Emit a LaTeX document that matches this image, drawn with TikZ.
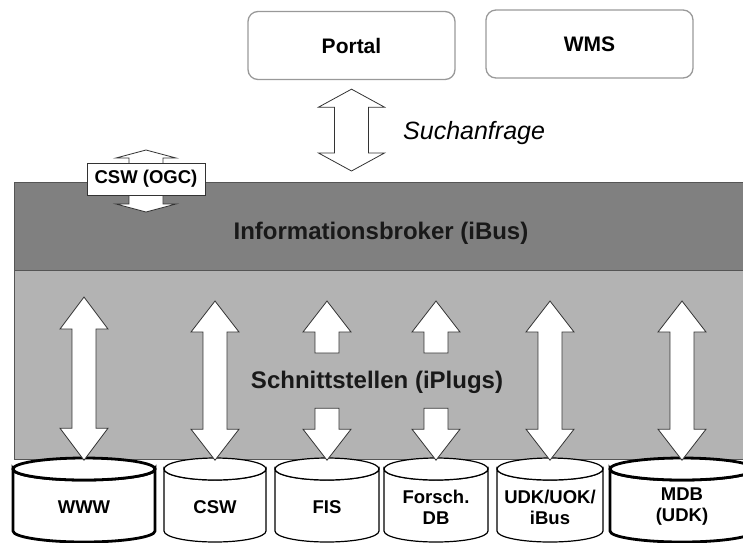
\documentclass[tikz,border=0pt]{standalone}
\usepackage{fontspec}
\setmainfont{Liberation Sans}
\usetikzlibrary{calc, positioning}
\definecolor{brokergray}{HTML}{808080}
\definecolor{plugsgray}{HTML}{B3B3B3}
\definecolor{edgegray}{HTML}{555555}
\tikzset{
  band/.style={draw=edgegray, line width=1.2pt, minimum width=760pt, anchor=north west, inner sep=0pt},
  bandlabel/.style={inner sep=0pt, font=\bfseries\fontsize{24}{28}\selectfont, text=black!90},
  client/.style={draw=black!40, line width=1.3pt, rounded corners=10pt, minimum width=207pt, minimum height=68pt, font=\bfseries\fontsize{21}{24}\selectfont},
  blk/.style={draw=black!80, fill=white, line width=0.8pt, line join=miter},
  dbline/.style={draw=black, fill=white, line width=1.2pt},
  dbthick/.style={dbline, line width=2.8pt},
  dblabel/.style={inner sep=0pt, align=center, font=\bfseries\fontsize{18.5}{21}\selectfont},
}
% block arrow with two heads: top tip, bottom tip, head half width, shaft half width, head length
\newcommand{\dblarrow}[5]{%
  \draw[blk] #1 -- ++(#3,#5) -- ++(#4-#3,0) -- ($#2+(#4,-#5)$) -- ++(#3-#4,0) -- #2
    -- ++(-#3,-#5) -- ++(#3-#4,0) -- ($#1+(-#4,#5)$) -- ++(#4-#3,0) -- cycle;}
% block arrow with one head: tip, head length, shaft length (signed)
\newcommand{\halfarrow}[3]{%
  \draw[blk] #1 -- ++(24,#2) -- ++(-12,0) -- ++(0,#3) -- ++(-24,0) -- ++(0,{-(#3)}) -- ++(-12,0) -- cycle;}
% database cylinder: style, name, centre x, half width, label
\newcommand{\dbase}[5]{%
  \draw[#1] (#3-#4,469) -- (#3-#4,531) arc[start angle=180, end angle=0, x radius=#4, y radius=11]
    -- (#3+#4,469) arc[start angle=0, end angle=180, x radius=#4, y radius=11] -- cycle;
  \draw[#1] (#3,469) ellipse[x radius=#4, y radius=11];
  \node[dblabel] (#2) at (#3,507) {#5};}

\begin{document}
\begin{tikzpicture}[x=1pt, y=-1pt]
  \clip (0,0) rectangle (743,542);

  % clients
  \node[client] (portal) at (351.5,45.5) {Portal};
  \node[client] (wms) at (589.5,44) {WMS};

  % layers
  \node[band, fill=plugsgray, minimum height=189pt] (iplugs) at (14,270) {};
  \node[band, fill=brokergray, minimum height=88pt] (ibus) at (14,182) {};
  \node[bandlabel] (ibustext) at (381,233) {Informationsbroker (iBus)};
  \node[bandlabel] (plugtext) at (377,382) {Schnittstellen (iPlugs)};

  % search request
  \coordinate (q1) at ($(portal.south)+(0,9)$);
  \coordinate (q2) at ($(q1 |- ibus.north)+(0,-11)$);
  \dblarrow{(q1)}{(q2)}{33}{17}{18}
  \node[inner sep=0pt, anchor=west, font=\itshape\fontsize{25}{30}\selectfont] (query) at (403,133) {Suchanfrage};

  % CSW interface of the broker
  \coordinate (ogcpos) at (146,179);
  \coordinate (o1) at ($(ogcpos)+(0,-29)$);
  \coordinate (o2) at ($(ogcpos)+(0,33)$);
  \dblarrow{(o1)}{(o2)}{30}{17}{8}
  \node[draw=black!80, fill=white, line width=0.8pt, minimum width=118pt, minimum height=32pt, inner sep=0pt,
    font=\bfseries\fontsize{18.5}{21}\selectfont] (ogc) at (ogcpos) {CSW (OGC)};

  % data sources
  \dbase{dbthick}{www}{84}{71}{WWW}
  \dbase{dbline}{csw}{215}{51}{CSW}
  \dbase{dbline}{fis}{327}{52}{FIS}
  \dbase{dbline}{forsch}{436}{52}{Forsch.\\DB}
  \dbase{dbline}{udk}{550}{53}{UDK/UOK/\\iBus}
  \dbase{dbthick}{mdb}{682}{72}{MDB\\(UDK)}

  % iPlugs
  \coordinate (t1) at ($(www |- iplugs.north)+(0,27)$);
  \dblarrow{(t1)}{(www |- iplugs.south)}{24}{12}{32}
  \foreach \db in {csw, udk, mdb} {
    \coordinate (t) at ($(\db |- iplugs.north)+(0,31)$);
    \dblarrow{(t)}{(\db |- iplugs.south)}{24}{12}{31}
  }
  \foreach \db in {fis, forsch} {
    \coordinate (t) at ($(\db |- iplugs.north)+(0,31)$);
    \halfarrow{(t)}{31}{21}
    \halfarrow{(\db |- iplugs.south)}{-31}{-21}
  }
\end{tikzpicture}
\end{document}
